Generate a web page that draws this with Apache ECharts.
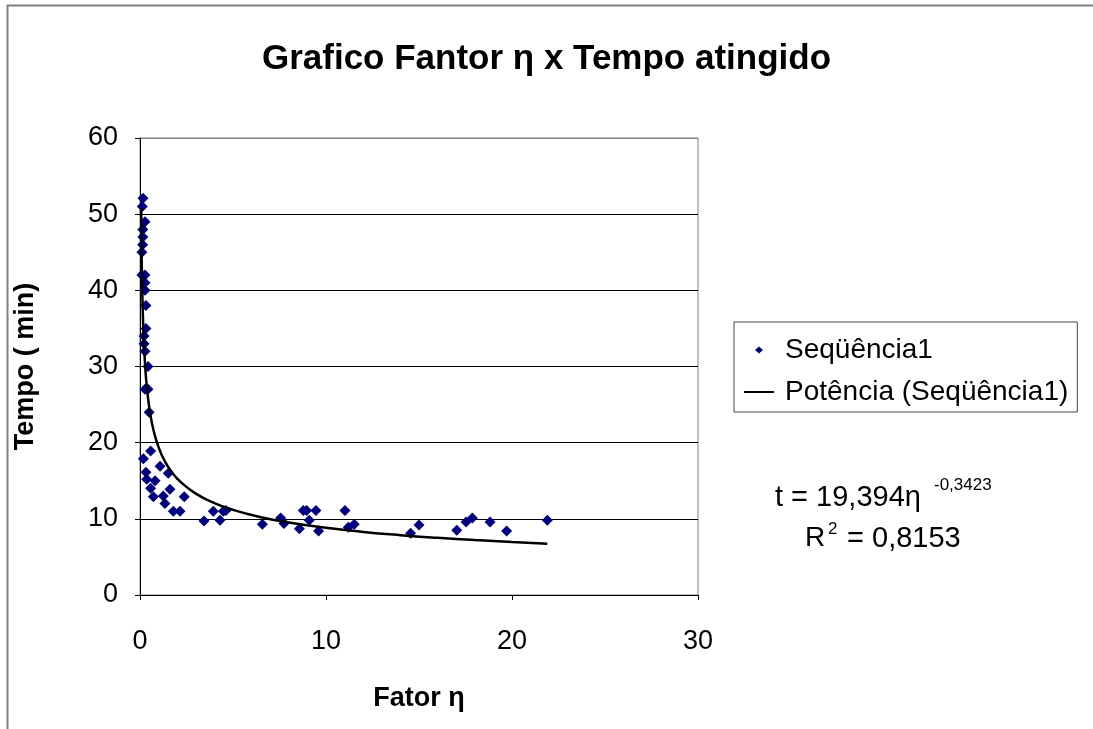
<!DOCTYPE html>
<html>
<head>
<meta charset="utf-8">
<script src="https://cdn.jsdelivr.net/npm/echarts@6/dist/echarts.min.js"></script>
<style>
  html, body { margin: 0; padding: 0; background: #fff; }
  #chart { width: 1093px; height: 729px; }
</style>
</head>
<body>
<div id="chart"></div>
<script>
// fator eta (x) and tempo em minutos (y)
var fator = [
  0.16, 0.12, 0.27, 0.15, 0.15, 0.14, 0.1, 0.1, 0.27, 0.27, 0.27, 0.32,
  0.32, 0.22, 0.22, 0.27, 0.43, 0.43, 0.27, 0.49, 0.57, 0.18, 1.08, 0.32,
  1.52, 0.36, 0.81, 0.57, 1.61, 0.72, 1.25, 2.38, 1.34, 1.79, 2.15, 3.94,
  4.48, 4.62, 3.44, 4.3, 6.58, 7.56, 7.74, 8.57, 8.78, 8.96, 9.46, 9.1,
  9.6, 11.02, 11.2, 11.52, 14.55, 15.0, 17.03, 17.53, 17.87, 18.82, 19.71, 21.9
];
var tempo = [
  52.1, 51, 49, 48, 47, 46, 45, 42, 42, 41, 40, 38,
  35, 34, 33, 32, 30, 27, 27, 24, 18.9, 17.9, 16.9, 16.1,
  16.0, 15.2, 15.0, 14.0, 13.9, 12.9, 13.0, 12.9, 12.0, 11.0, 11.0, 11.0,
  11.0, 11.1, 9.7, 9.8, 9.3, 10.1, 9.4, 8.7, 11.1, 11.1, 11.1, 9.8,
  8.4, 11.1, 8.9, 9.3, 8.1, 9.2, 8.5, 9.6, 10.1, 9.6, 8.4, 9.8
];

// trendline shown in the chart: t = 19,394 * eta^-0,3423
var trendCoef = 19.394;
var trendExp = -0.3423;
var trendX = [0.06, 0.08, 0.1, 0.13, 0.17, 0.22, 0.3, 0.4, 0.55, 0.75, 1, 1.3, 1.7,
  2.2, 3, 4, 5, 6.5, 8, 10, 12, 14, 16, 18, 20, 21.9];

var xTicks = [0, 10, 20, 30];
var yTicks = [0, 10, 20, 30, 40, 50, 60];

var pontos = fator.map(function (v, i) { return [v, tempo[i]]; });
var curva = trendX.map(function (v) { return [v, trendCoef * Math.pow(v, trendExp)]; });

var font = 'Liberation Sans, Arial, sans-serif';

// legend icons: tiny corner specks keep the shape's box at 36x9 so it isn't stretched
var corners = 'M0,0L0.01,0L0,0.01Z M36,9L35.99,9L36,8.99Z ';
var iconDiamond = 'path://' + corners + 'M15,1L19,4.5L15,8L11,4.5Z';
var iconLine = 'path://' + corners + 'M0,3.5L30,3.5L30,5.5L0,5.5Z';

var chart = echarts.init(document.getElementById('chart'));

chart.setOption({
  backgroundColor: '#fff',
  animation: false,
  title: {
    text: 'Grafico Fantor η x Tempo atingido',
    left: 'center',
    top: 37,
    textStyle: { fontFamily: font, fontSize: 35, fontWeight: 'bold', color: '#000' }
  },
  grid: {
    left: 140, top: 138, width: 558, height: 457,
    show: true, borderColor: '#808080', borderWidth: 1
  },
  legend: {
    orient: 'vertical',
    left: 734,
    top: 322,
    padding: [14, 9, 6, 10],
    itemGap: 14,
    itemWidth: 36,
    itemHeight: 9,
    borderColor: '#444',
    borderWidth: 1,
    textStyle: { fontFamily: font, fontSize: 28, color: '#000' },
    data: [
      { name: 'Seqüência1', icon: iconDiamond },
      { name: 'Potência (Seqüência1)', icon: iconLine }
    ]
  },
  xAxis: {
    type: 'value',
    min: xTicks[0],
    max: xTicks[xTicks.length - 1],
    interval: 10,
    name: 'Fator η',
    nameLocation: 'middle',
    nameGap: 90,
    nameTextStyle: { fontFamily: font, fontSize: 27, fontWeight: 'bold', color: '#000' },
    axisLine: { lineStyle: { color: '#000', width: 1 } },
    axisTick: { show: true, length: 5, lineStyle: { color: '#000' } },
    axisLabel: { fontFamily: font, fontSize: 27, color: '#000', margin: 33 },
    splitLine: { show: false }
  },
  yAxis: {
    type: 'value',
    min: yTicks[0],
    max: yTicks[yTicks.length - 1],
    interval: 10,
    name: 'Tempo ( min)',
    nameLocation: 'middle',
    nameGap: 101,
    nameTextStyle: { fontFamily: font, fontSize: 27, fontWeight: 'bold', color: '#000' },
    axisLine: { show: true, lineStyle: { color: '#000', width: 1 } },
    axisTick: { show: true, length: 5, lineStyle: { color: '#000' } },
    axisLabel: { fontFamily: font, fontSize: 27, color: '#000', margin: 22 },
    splitLine: {
      show: true,
      lineStyle: { color: ['#000', '#000', '#000', '#000', '#000', '#000', '#808080'], width: 1 }
    }
  },
  series: [
    {
      name: 'Seqüência1',
      type: 'scatter',
      symbol: 'diamond',
      symbolSize: 11,
      itemStyle: { color: '#000080', opacity: 1 },
      data: pontos,
      z: 3
    },
    {
      name: 'Potência (Seqüência1)',
      type: 'line',
      symbol: 'none',
      smooth: true,
      lineStyle: { color: '#000', width: 2.5 },
      itemStyle: { color: '#000' },
      data: curva,
      z: 4
    }
  ],
  graphic: [
    {
      type: 'rect',
      left: 5, top: 3,
      shape: { width: 1100, height: 740 },
      style: { fill: 'none', stroke: '#808080', lineWidth: 2 },
      silent: true
    },
    {
      type: 'text',
      left: 775, top: 483,
      style: { text: 't = 19,394η', fontFamily: font, fontSize: 29, fill: '#000' }
    },
    {
      type: 'text',
      left: 934, top: 477,
      style: { text: '-0,3423', fontFamily: font, fontSize: 17, fill: '#000' }
    },
    {
      type: 'text',
      left: 805, top: 524,
      style: { text: 'R', fontFamily: font, fontSize: 28, fill: '#000' }
    },
    {
      type: 'text',
      left: 828, top: 521,
      style: { text: '2', fontFamily: font, fontSize: 17, fill: '#000' }
    },
    {
      type: 'text',
      left: 839, top: 524,
      style: { text: ' = 0,8153', fontFamily: font, fontSize: 29, fill: '#000' }
    }
  ]
});
</script>
</body>
</html>
